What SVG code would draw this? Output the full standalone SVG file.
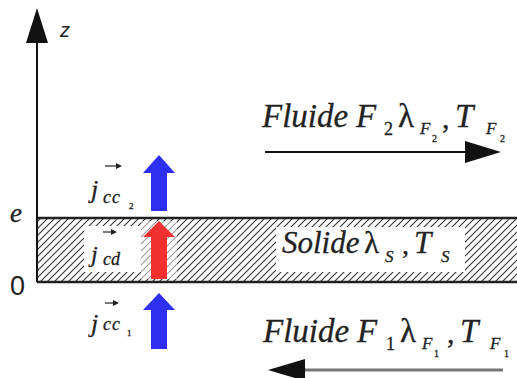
<svg xmlns="http://www.w3.org/2000/svg" width="517" height="378" viewBox="0 0 517 378">
  <style>
    .it { font-family: "Liberation Serif", "Times New Roman", serif; font-style: italic; fill: #222; stroke: #222; stroke-width: 0.3; }
    .rm { font-family: "Liberation Serif", "Times New Roman", serif; fill: #222; stroke: #222; stroke-width: 0.3; }
    .sans { font-family: "Liberation Sans", Arial, sans-serif; fill: #222; }
    .blue { fill: #2f2ff2; }
    .red { fill: #f23030; }
    .vec { stroke: #222; stroke-width: 1.2; fill: none; }
    .vech { fill: #222; }
  </style>
  <defs>
    <pattern id="hatch" patternUnits="userSpaceOnUse" width="7" height="7">
      <path d="M-1,1 L1,-1 M0,7 L7,0 M6,8 L8,6" stroke="#333" stroke-width="1.1"/>
    </pattern>
  </defs>
  <rect width="517" height="378" fill="#fff"/>

  <g id="slab">
    <rect x="37" y="218" width="480" height="64" fill="url(#hatch)"/>
    <line x1="37" y1="218" x2="517" y2="218" stroke="#222" stroke-width="2.5"/>
    <line x1="37" y1="282" x2="517" y2="282" stroke="#222" stroke-width="2.5"/>
    <rect x="276" y="227" width="189" height="45" fill="#fff"/>
    <text class="it" x="282" y="253" font-size="31">Solide</text>
    <text class="rm" x="364" y="253" font-size="31">λ</text>
    <text class="it" x="385" y="262" font-size="17">S</text>
    <text class="rm" x="402" y="254" font-size="28">,</text>
    <text class="it" x="414" y="253" font-size="31">T</text>
    <text class="it" x="441" y="262" font-size="17">S</text>
  </g>

  <g id="axis">
    <line x1="37" y1="40" x2="37" y2="282" stroke="#111" stroke-width="2"/>
    <polygon points="37,8 48,43 26,43" fill="#111"/>
    <text class="sans" x="60" y="37" font-size="20" font-style="italic" fill="#333">z</text>
    <text class="it" x="10" y="222" font-size="27">e</text>
    <text class="sans" x="10" y="295" font-size="27">0</text>
  </g>

  <g id="flux-cc2">
    <path class="vec" d="M105,166 H119"/>
    <polygon class="vech" points="116,163 122,166 116,169"/>
    <text class="it" x="91" y="198" font-size="26">j</text>
    <text class="it" x="103" y="203" font-size="18" letter-spacing="1">cc</text>
    <text class="rm" x="129" y="209" font-size="9">2</text>
  </g>

  <g id="flux-cd">
    <rect x="84" y="226" width="57" height="46" fill="#fff"/>
    <rect x="141" y="221" width="36" height="58" fill="#fff" opacity="0.5"/>
    <path class="vec" d="M103,232 H114"/>
    <polygon class="vech" points="111,229 117,232 111,235"/>
    <text class="it" x="91" y="262" font-size="24">j</text>
    <text class="it" x="103" y="265" font-size="18">cd</text>
  </g>

  <g id="flux-cc1">
    <path class="vec" d="M105,303 H116"/>
    <polygon class="vech" points="113,300 119,303 113,306"/>
    <text class="it" x="91" y="332" font-size="26">j</text>
    <text class="it" x="103" y="330" font-size="18" letter-spacing="1">cc</text>
    <text class="rm" x="127" y="336" font-size="9">1</text>
  </g>

  <g id="fluid-F2">
    <text class="it" x="262" y="127" font-size="33">Fluide</text>
    <text class="it" x="356" y="127" font-size="33">F</text>
    <text class="rm" x="384" y="135" font-size="18">2</text>
    <text class="rm" x="398" y="127" font-size="33">λ</text>
    <text class="it" x="420" y="134" font-size="17">F</text>
    <text class="rm" x="432" y="142" font-size="10">2</text>
    <text class="rm" x="442" y="128" font-size="30">,</text>
    <text class="it" x="455" y="127" font-size="33">T</text>
    <text class="it" x="486" y="134" font-size="17">F</text>
    <text class="rm" x="500" y="142" font-size="10">2</text>
  </g>

  <g id="fluid-F1">
    <text class="it" x="263" y="342" font-size="33">Fluide</text>
    <text class="it" x="357" y="342" font-size="33">F</text>
    <text class="rm" x="386" y="350" font-size="18">1</text>
    <text class="rm" x="400" y="342" font-size="33">λ</text>
    <text class="it" x="422" y="349" font-size="17">F</text>
    <text class="rm" x="434" y="357" font-size="10">1</text>
    <text class="rm" x="447" y="343" font-size="30">,</text>
    <text class="it" x="460" y="342" font-size="33">T</text>
    <text class="it" x="490" y="349" font-size="17">F</text>
    <text class="rm" x="504" y="357" font-size="10">1</text>
  </g>

  <g id="connectors">
    <polygon class="blue" points="159,155 175,173 167,173 167,211 151,211 151,173 143,173"/>
    <polygon class="red" points="159,221 175,237 167,237 167,279 151,279 151,237 143,237"/>
    <polygon class="blue" points="159,293 175,310 167,310 167,349 151,349 151,310 143,310"/>
    <line x1="265" y1="152" x2="468" y2="152" stroke="#111" stroke-width="2"/>
    <polygon points="501,152 465,141 465,163" fill="#111"/>
    <line x1="302" y1="370" x2="503" y2="370" stroke="#777" stroke-width="3"/>
    <polygon points="268,370 305,359 305,381" fill="#111"/>
  </g>
</svg>
